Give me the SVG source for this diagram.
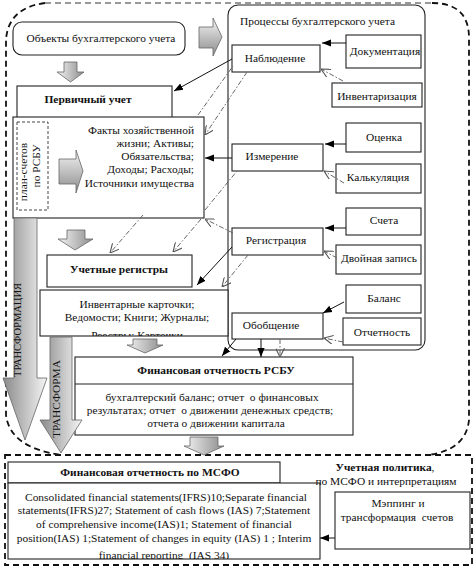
<svg xmlns="http://www.w3.org/2000/svg" width="474" height="567" viewBox="0 0 474 567">
<style>
.t{font-family:"Liberation Serif","Times New Roman",serif;font-size:11.4px;fill:#111}
.b{font-weight:bold}
.m{text-anchor:middle}
.e{text-anchor:end}
.p{white-space:pre}
.box{fill:#fff;stroke:#222;stroke-width:1.1}
.frame{fill:none;stroke:#111;stroke-width:1.8;stroke-dasharray:6 4}
.sl{fill:none;stroke:#111;stroke-width:1;marker-end:url(#af)}
.dl{fill:none;stroke:#666;stroke-width:1;stroke-dasharray:5 2 1.5 2;marker-end:url(#ao)}
.dn{fill:none;stroke:#666;stroke-width:1;stroke-dasharray:5 2 1.5 2}
.ga{fill:url(#gv);stroke:#666;stroke-width:0.8}
.ta{fill:url(#gt);stroke:#666;stroke-width:0.8}
</style>
<defs>
<linearGradient id="gv" x1="0" y1="0" x2="1" y2="0"><stop offset="0" stop-color="#f4f4f4"/><stop offset="1" stop-color="#8c8c8c"/></linearGradient>
<linearGradient id="gh" x1="0" y1="0" x2="0" y2="1"><stop offset="0" stop-color="#f4f4f4"/><stop offset="1" stop-color="#8c8c8c"/></linearGradient>
<linearGradient id="gt" x1="0" y1="0" x2="1" y2="0"><stop offset="0" stop-color="#8a8a8a"/><stop offset="1" stop-color="#f6f6f6"/></linearGradient>
<marker id="af" viewBox="0 0 10 10" refX="10" refY="5" markerWidth="9" markerHeight="9" markerUnits="userSpaceOnUse" orient="auto"><path d="M0,1 L10,5 L0,9 z" fill="#000"/></marker>
<marker id="ao" viewBox="0 0 10 10" refX="10" refY="5" markerWidth="9" markerHeight="9" markerUnits="userSpaceOnUse" orient="auto"><path d="M0,0 L10,5 L0,10" fill="none" stroke="#555" stroke-width="1.2"/></marker>
<clipPath id="cInv"><rect x="40" y="290" width="188" height="46"/></clipPath>
<clipPath id="cIfrs"><rect x="8" y="483" width="312" height="76"/></clipPath>
</defs>

<g id="frames">
<path d="M45,3 L432,3" fill="none" stroke="#999" stroke-width="1.8" stroke-dasharray="6 4"/>
<path class="frame" d="M432,3 Q469,3 469,38 L469,420 Q466,450 428,455"/>
<path class="frame" d="M45,3 Q8,8 6,40 L6,415 Q10,448 62,455"/>
<rect class="frame" x="5" y="455" width="467" height="110"/>
</g>

<g id="processes">
<rect class="box" x="228" y="5" width="197" height="345" rx="10"/>
<text class="t" x="240" y="25">Процессы бухгалтерского учета</text>
</g>

<g id="objects">
<rect class="box" x="13" y="22" width="172" height="33" rx="9"/>
<text class="t m" x="101" y="42">Объекты бухгалтерского учета</text>
</g>

<g id="primary">
<rect class="box" x="17" y="86" width="155" height="40"/>
<text class="t b m" x="88" y="103">Первичный учет</text>
</g>

<g id="facts">
<rect class="box" x="13" y="117" width="191" height="101"/>
<rect x="17" y="122" width="31" height="88" fill="none" stroke="#444" stroke-width="1" stroke-dasharray="3 2"/>
<text class="t m" transform="translate(27,172) rotate(-90)">план-счетов</text>
<text class="t m" transform="translate(40,166) rotate(-90)">по РСБУ</text>
<text class="t e" x="194" y="134">Факты хозяйственной</text>
<text class="t e" x="194" y="147">жизни; Активы;</text>
<text class="t e" x="194" y="160">Обязательства;</text>
<text class="t e" x="194" y="173">Доходы; Расходы;</text>
<text class="t e" x="194" y="187">Источники имущества</text>
</g>

<g id="registers">
<rect class="box" x="47" y="255" width="145" height="32"/>
<text class="t b m" x="119" y="273">Учетные регистры</text>
</g>

<g id="inventory">
<rect class="box" x="40" y="290" width="188" height="46"/>
<g clip-path="url(#cInv)">
<text class="t m" x="137" y="308">Инвентарные карточки;</text>
<text class="t m" x="137" y="321">Ведомости; Книги; Журналы;</text>
<text class="t m" x="137" y="339">Реестры; Карточки</text>
</g>
</g>

<g id="rsbu">
<rect class="box" x="75" y="357" width="278" height="78"/>
<line x1="75" y1="384" x2="353" y2="384" stroke="#222" stroke-width="1.1"/>
<text class="t b m" x="216" y="374">Финансовая отчетность РСБУ</text>
<text class="t m p" x="212" y="401">бухгалтерский баланс; отчет  о финансовых</text>
<text class="t m p" x="210" y="414">результатах; отчет  о движении денежных средств;</text>
<text class="t m" x="216" y="427">отчета о движении капитала</text>
</g>

<g id="n-nabl"><rect class="box" x="232" y="45" width="88" height="27"/><text class="t m" x="275" y="62">Наблюдение</text></g>
<g id="n-doc"><rect class="box" x="346" y="35" width="75" height="33"/><text class="t m" x="385" y="55">Документация</text></g>
<g id="n-inv"><rect class="box" x="332" y="83" width="90" height="24"/><text class="t m" x="377" y="100">Инвентаризация</text></g>
<g id="n-ocen"><rect class="box" x="346" y="123" width="75" height="29"/><text class="t m" x="384" y="141">Оценка</text></g>
<g id="n-izm"><rect class="box" x="232" y="144" width="91" height="27"/><text class="t m" x="272" y="160">Измерение</text></g>
<g id="n-kalk"><rect class="box" x="336" y="164" width="85" height="29"/><text class="t m" x="378" y="181">Калькуляция</text></g>
<g id="n-sch"><rect class="box" x="346" y="208" width="75" height="27"/><text class="t m" x="384" y="224">Счета</text></g>
<g id="n-reg"><rect class="box" x="232" y="228" width="91" height="27"/><text class="t m" x="276" y="244">Регистрация</text></g>
<g id="n-dz"><rect class="box" x="336" y="245" width="85" height="29"/><text class="t m" x="379" y="262">Двойная запись</text></g>
<g id="n-bal"><rect class="box" x="346" y="285" width="75" height="28"/><text class="t m" x="384" y="302">Баланс</text></g>
<g id="n-obob"><rect class="box" x="232" y="313" width="91" height="26"/><text class="t m" x="271" y="329">Обобщение</text></g>
<g id="n-otch"><rect class="box" x="343" y="318" width="78" height="27"/><text class="t m" x="382" y="336">Отчетность</text></g>

<g id="connectors">
<line class="sl" x1="346" y1="43" x2="322" y2="43"/>
<line class="dl" x1="343" y1="81" x2="321" y2="69"/>
<line class="sl" x1="346" y1="144" x2="325" y2="144"/>
<line class="dl" x1="344" y1="183" x2="324" y2="171"/>
<line class="sl" x1="346" y1="228" x2="325" y2="228"/>
<line class="dl" x1="337" y1="258" x2="324" y2="251"/>
<line class="sl" x1="344" y1="302" x2="323" y2="313"/>
<line class="dl" x1="343" y1="342" x2="324" y2="338"/>
<line class="sl" x1="232" y1="59" x2="174" y2="91"/>
<line class="dl" x1="247" y1="72" x2="205" y2="135"/>
<line class="sl" x1="232" y1="158" x2="205" y2="158"/>
<line class="dl" x1="233" y1="233" x2="205" y2="219"/>
<line class="sl" x1="232" y1="247" x2="197" y2="285"/>
<line class="dl" x1="248" y1="255" x2="222" y2="287"/>
<line class="sl" x1="236" y1="339" x2="222" y2="356"/>
<line class="sl" x1="261" y1="339" x2="261" y2="357"/>
<line class="dl" x1="280" y1="339" x2="280" y2="357"/>
<line class="sl" x1="335" y1="538" x2="320" y2="538"/>
<line class="dn" x1="198" y1="115" x2="233" y2="66"/>
<line class="dn" x1="205" y1="210" x2="237" y2="171"/>
<line class="dl" x1="143" y1="215" x2="110" y2="253"/>
<line class="dl" x1="201" y1="219" x2="173" y2="252"/>
</g>

<g id="block-arrows">
<polygon class="ga" style="fill:url(#gh)" points="199,27 213,27 213,18 222,37 213,56 213,48 199,48"/>
<polygon class="ga" points="64,62 77,62 77,72 84,72 70.5,82 57,72 64,72"/>
<polygon class="ga" style="fill:url(#gh)" points="59,159 76,159 76,150 83,171 76,193 76,184 59,184"/>
<polygon class="ga" points="67,230 85,230 85,239 93,239 75,250 58,239 67,239"/>
<polygon class="ga" points="133,339 157,339 157,345 163,345 145,353 127,345 133,345"/>
<polygon class="ga" points="190,437 218,437 218,446 224,446 204,455 184,446 190,446"/>
</g>

<g id="transform1">
<polygon class="ta" points="14,218 37,218 37,378 47,378 25,440 3,378 14,378"/>
<text class="t" style="font-size:10.5px" text-anchor="middle" transform="translate(21,330) rotate(-90)">ТРАНСФОРМАЦИЯ</text>
</g>
<g id="transform2">
<polygon class="ta" points="50,337 72,337 72,420 82,420 61,453 40,420 50,420"/>
<text class="t" text-anchor="middle" transform="translate(60,399) rotate(-90)">ТРАНСФОРМА</text>
</g>

<g id="ifrs">
<rect class="box" x="8" y="462" width="272" height="21"/>
<text class="t b m" x="150" y="476">Финансовая отчетность по МСФО</text>
<rect class="box" x="8" y="483" width="312" height="76"/>
<g clip-path="url(#cIfrs)">
<text class="t m" x="166" y="501">Consolidated financial statements(IFRS)10;Separate financial</text>
<text class="t m" x="164" y="514">statements(IFRS)27; Statement of cash flows (IAS) 7;Statement</text>
<text class="t m" x="164" y="528">of comprehensive income(IAS)1; Statement of financial</text>
<text class="t m" x="164" y="542">position(IAS) 1;Statement of changes in equity (IAS) 1 ; Interim</text>
<text class="t m p" x="164" y="559">financial reporting  (IAS 34)</text>
</g>
</g>

<g id="policy">
<text class="t m" x="385" y="471"><tspan class="b">Учетная политика</tspan>,</text>
<text class="t m" x="386" y="485">по МСФО и интерпретациям</text>
</g>

<g id="mapping">
<rect class="box" x="335" y="492" width="135" height="57"/>
<text class="t m" x="398" y="507">Мэппинг и</text>
<text class="t m p" x="397" y="521">трансформация  счетов</text>
</g>
</svg>
